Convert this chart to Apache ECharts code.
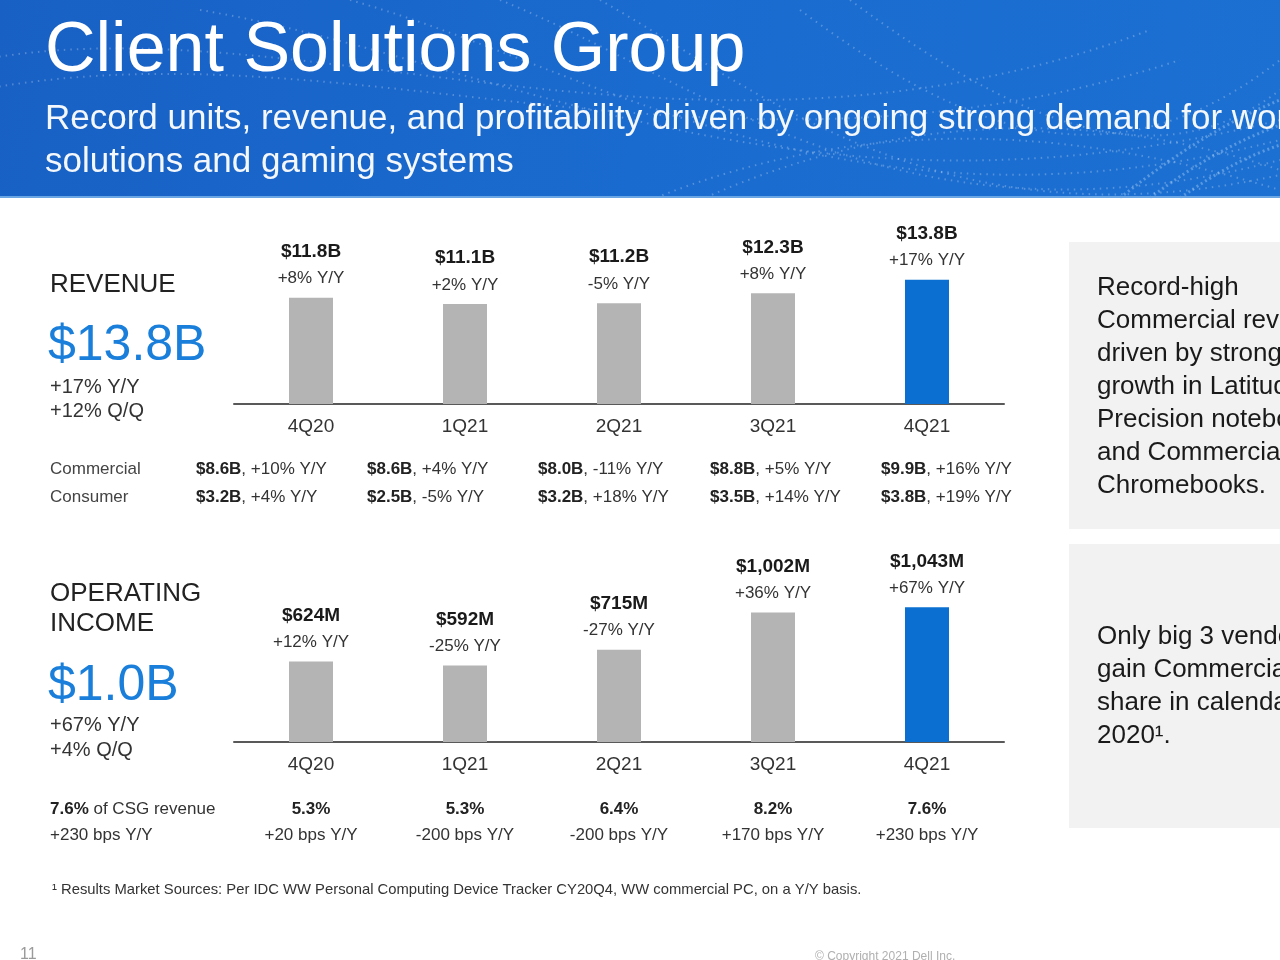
<!DOCTYPE html>
<html><head><meta charset="utf-8">
<script src="https://cdn.jsdelivr.net/npm/echarts@6/dist/echarts.min.js"></script>
<style>html,body{margin:0;padding:0;background:#fff}#c{width:1280px;height:960px}</style>
</head><body><div id="c"></div>
<script>
// ---- data ----
const categories = ['4Q20', '1Q21', '2Q21', '3Q21', '4Q21'];
const revenue = [11.8, 11.1, 11.2, 12.3, 13.8];
const revenueLabels = ['$11.8B', '$11.1B', '$11.2B', '$12.3B', '$13.8B'];
const revenueYoY = ['+8% Y/Y', '+2% Y/Y', '-5% Y/Y', '+8% Y/Y', '+17% Y/Y'];
const commercialRev = ['$8.6B', '$8.6B', '$8.0B', '$8.8B', '$9.9B'];
const commercialYoY = ['+10% Y/Y', '+4% Y/Y', '-11% Y/Y', '+5% Y/Y', '+16% Y/Y'];
const consumerRev = ['$3.2B', '$2.5B', '$3.2B', '$3.5B', '$3.8B'];
const consumerYoY = ['+4% Y/Y', '-5% Y/Y', '+18% Y/Y', '+14% Y/Y', '+19% Y/Y'];
const opIncome = [624, 592, 715, 1002, 1043];
const opLabels = ['$624M', '$592M', '$715M', '$1,002M', '$1,043M'];
const opYoY = ['+12% Y/Y', '-25% Y/Y', '-27% Y/Y', '+36% Y/Y', '+67% Y/Y'];
const opMargin = ['5.3%', '5.3%', '6.4%', '8.2%', '7.6%'];
const opMarginBps = ['+20 bps Y/Y', '-200 bps Y/Y', '-200 bps Y/Y', '+170 bps Y/Y', '+230 bps Y/Y'];

const FONT = "'Liberation Sans', Arial, Helvetica, sans-serif";
const GRAY = '#b4b4b4';
const BLUE = '#0a6fd0';
const KPI_BLUE = '#1a7fda';

const chart = echarts.init(document.getElementById('c'), null, {renderer: 'canvas', width: 1280, height: 960});

function barData(vals) {
  return vals.map((v, i) => ({value: v, itemStyle: {color: i === vals.length - 1 ? BLUE : GRAY}}));
}
function barLabel(labels, yoy) {
  return {
    show: true, position: 'top', distance: 8,
    formatter: p => '{v|' + labels[p.dataIndex] + '}\n{y|' + yoy[p.dataIndex] + '}',
    rich: {
      v: {fontFamily: FONT, fontWeight: 'bold', fontSize: 19, color: '#1a1a1a', lineHeight: 32},
      y: {fontFamily: FONT, fontSize: 17, color: '#333', lineHeight: 22}
    }
  };
}
const catAxisBase = {
  type: 'category', data: categories,
  axisLine: {show: true, lineStyle: {color: '#595959', width: 2}},
  axisTick: {show: false},
  axisLabel: {fontFamily: FONT, fontSize: 19, color: '#333', margin: 13},
  splitLine: {show: false}
};

function txt(x, y, text, size, color, opts) {
  opts = opts || {};
  return {
    type: 'text', x: x, y: y, silent: true,
    style: Object.assign({
      text: text, fill: color, font: (opts.bold ? 'bold ' : '') + size + 'px ' + FONT,
      textAlign: opts.align || 'left', textVerticalAlign: 'middle'
    }, opts.style || {})
  };
}
function richRow(x, y, bold, normal) {
  return {
    type: 'text', x: x, y: y, silent: true,
    style: {
      text: '{b|' + bold + '}{n|, ' + normal + '}',
      textVerticalAlign: 'middle',
      rich: {
        b: {fontFamily: FONT, fontWeight: 'bold', fontSize: 17, fill: '#222', color: '#222'},
        n: {fontFamily: FONT, fontSize: 17, fill: '#333', color: '#333'}
      }
    }
  };
}

const graphics = [];
// header background
graphics.push({
  type: 'rect', shape: {x: 0, y: 0, width: 1280, height: 198}, silent: true,
  style: {fill: new echarts.graphic.LinearGradient(0, 0, 1, 1, [
    {offset: 0, color: '#1860c4'}, {offset: 0.5, color: '#1a6bcf'}, {offset: 1, color: '#1c70d2'}
  ])}
});
// dotted wave decoration
const waves = [
  [-20, 60, 300, 0, 700, 200, 1150, 30],
  [-20, 90, 350, 20, 720, 210, 1180, 60],
  [200, 10, 500, 60, 800, 240, 1280, 120],
  [350, 0, 600, 70, 850, 250, 1280, 140],
  [500, 0, 700, 80, 900, 260, 1280, 160],
  [600, 0, 760, 90, 940, 250, 1280, 175],
  [650, 200, 850, 120, 1050, 120, 1280, 190],
  [700, 200, 900, 110, 1100, 110, 1280, 170],
  [800, 10, 950, 120, 1100, 200, 1280, 60],
  [850, 0, 1000, 110, 1150, 190, 1280, 90]
];
waves.forEach(w => graphics.push({
  type: 'bezierCurve', silent: true,
  shape: {x1: w[0], y1: w[1], cpx1: w[2], cpy1: w[3], cpx2: w[4], cpy2: w[5], x2: w[6], y2: w[7]},
  style: {stroke: 'rgba(255,255,255,0.25)', lineWidth: 2, lineDash: [1.5, 5], fill: null}
}));
[[1120, 198, 1180, 150, 1230, 120, 1280, 100], [1150, 198, 1200, 160, 1240, 140, 1280, 125], [1180, 198, 1220, 170, 1250, 155, 1280, 145]]
  .forEach(w => graphics.push({
    type: 'bezierCurve', silent: true,
    shape: {x1: w[0], y1: w[1], cpx1: w[2], cpy1: w[3], cpx2: w[4], cpy2: w[5], x2: w[6], y2: w[7]},
    style: {stroke: 'rgba(200,230,255,0.35)', lineWidth: 3, lineDash: [2, 3], fill: null}
  }));
graphics.push({type: 'rect', shape: {x: 0, y: 196, width: 1280, height: 2}, silent: true, style: {fill: '#6aa6e4'}});
graphics.push(txt(45, 52, 'Client Solutions Group', 70, '#ffffff'));
graphics.push(txt(45, 119, 'Record units, revenue, and profitability driven by ongoing strong demand for work', 35, '#f4f8fc'));
graphics.push(txt(45, 162, 'solutions and gaming systems', 35, '#f4f8fc'));

// left column
graphics.push(txt(50, 285, 'REVENUE', 26, '#222'));
graphics.push(txt(48, 346, '$13.8B', 50, KPI_BLUE));
graphics.push(txt(50, 387, '+17% Y/Y', 20, '#333'));
graphics.push(txt(50, 411, '+12% Q/Q', 20, '#333'));
graphics.push(txt(50, 469, 'Commercial', 17, '#444'));
graphics.push(txt(50, 497, 'Consumer', 17, '#444'));
const rowX = [196, 367, 538, 710, 881];
rowX.forEach((x, i) => {
  graphics.push(richRow(x, 469, commercialRev[i], commercialYoY[i]));
  graphics.push(richRow(x, 497, consumerRev[i], consumerYoY[i]));
});
graphics.push(txt(50, 594, 'OPERATING', 26, '#222'));
graphics.push(txt(50, 624, 'INCOME', 26, '#222'));
graphics.push(txt(48, 686, '$1.0B', 50, KPI_BLUE));
graphics.push(txt(50, 725, '+67% Y/Y', 20, '#333'));
graphics.push(txt(50, 750, '+4% Q/Q', 20, '#333'));
graphics.push({
  type: 'text', x: 50, y: 809, silent: true,
  style: {
    text: '{b|7.6%}{n| of CSG revenue}', textVerticalAlign: 'middle',
    rich: {
      b: {fontFamily: FONT, fontWeight: 'bold', fontSize: 17, fill: '#222'},
      n: {fontFamily: FONT, fontSize: 17, fill: '#333'}
    }
  }
});
graphics.push(txt(50, 835, '+230 bps Y/Y', 17, '#333'));

// right panels
graphics.push({type: 'rect', shape: {x: 1069, y: 242, width: 215, height: 287}, silent: true, style: {fill: '#f2f2f2'}});
graphics.push({type: 'rect', shape: {x: 1069, y: 544, width: 215, height: 284}, silent: true, style: {fill: '#f2f2f2'}});
['Record-high', 'Commercial revenue', 'driven by strong', 'growth in Latitude,', 'Precision notebooks', 'and Commercial', 'Chromebooks.']
  .forEach((t, i) => graphics.push(txt(1097, 288 + i * 33, t, 26, '#1a1a1a')));
['Only big 3 vendor to', 'gain Commercial', 'share in calendar', '2020\u00b9.']
  .forEach((t, i) => graphics.push(txt(1097, 637 + i * 33, t, 26, '#1a1a1a')));

// footnote & footer
graphics.push(txt(52, 890, '\u00b9 Results Market Sources: Per IDC WW Personal Computing Device Tracker CY20Q4, WW commercial PC, on a Y/Y basis.', 14.8, '#333'));
graphics.push(txt(20, 955, '11', 16, '#9a9a9a'));
graphics.push(txt(815, 957, '\u00a9 Copyright 2021 Dell Inc.', 12, '#b0b0b0'));

chart.setOption({
  backgroundColor: '#ffffff',
  animation: false,
  grid: [
    {left: 234, width: 770, top: 260, height: 144},
    {left: 234, width: 770, top: 587, height: 155}
  ],
  xAxis: [
    Object.assign({gridIndex: 0}, catAxisBase),
    Object.assign({gridIndex: 1}, catAxisBase),
    {
      gridIndex: 1, type: 'category', data: categories, position: 'bottom', offset: 46,
      axisLine: {show: false}, axisTick: {show: false},
      axisLabel: {
        margin: 8,
        formatter: (v, i) => '{b|' + opMargin[i] + '}\n{n|' + opMarginBps[i] + '}',
        rich: {
          b: {fontFamily: FONT, fontWeight: 'bold', fontSize: 17, color: '#222', lineHeight: 26},
          n: {fontFamily: FONT, fontSize: 17, color: '#333', lineHeight: 26}
        }
      }
    }
  ],
  yAxis: [
    {gridIndex: 0, type: 'value', min: 0, max: 16, show: false},
    {gridIndex: 1, type: 'value', min: 0, max: 1200, show: false}
  ],
  series: [
    {type: 'bar', xAxisIndex: 0, yAxisIndex: 0, barWidth: 44, data: barData(revenue), label: barLabel(revenueLabels, revenueYoY)},
    {type: 'bar', xAxisIndex: 1, yAxisIndex: 1, barWidth: 44, data: barData(opIncome), label: barLabel(opLabels, opYoY)}
  ],
  graphic: graphics
});
</script>
</body></html>
